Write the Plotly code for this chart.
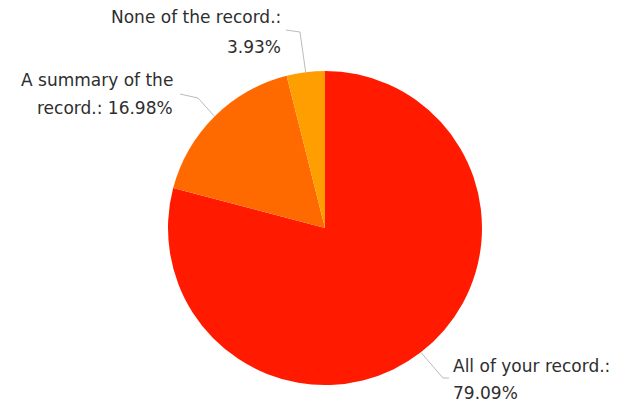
import numpy as np
import plotly.graph_objects as go

labels = ["All of your record.:", "A summary of the record.:", "None of the record.:"]
values = [79.09, 16.98, 3.93]
colors = ["#FF1A00", "#FF6A00", "#FF9E00"]

W, H = 630, 404
cx, cy, r = 325, 228, 157  # pie centre / radius in px (from top-left)

fig = go.Figure(go.Pie(
    labels=labels, values=values, sort=False, direction="clockwise", rotation=0,
    marker=dict(colors=colors, line=dict(color="rgba(0,0,0,0)", width=0)),
    textinfo="none", hoverinfo="label+percent", showlegend=False,
    domain=dict(x=[(cx - r) / W, (cx + r) / W], y=[(H - cy - r) / H, (H - cy + r) / H]),
))

# slice mid-angles (clockwise from 12 o'clock)
tot = sum(values)
cum = np.cumsum([0] + values[:-1])
mid = [(c + v / 2) / tot * 2 * np.pi for c, v in zip(cum, values)]
edge = [(cx + r * np.sin(a), cy - r * np.cos(a)) for a in mid]

def px(x, y):
    return x / W, 1 - y / H

font = dict(family="DejaVu Sans", size=17, color="#2e2e2e")
shapes = []
annos = []

# label text lines and their anchors (px): (text, x, y, xanchor)
label_lines = [
    [("All of your record.:", 451, 366, "left"), (f"{values[0]:.2f}%", 451, 393, "left")],
    [("A summary of the", 175, 80, "right"), (f"record.: {values[1]:.2f}%", 175, 108, "right")],
    [("None of the record.:", 283, 17, "right"), (f"{values[2]:.2f}%", 283, 47, "right")],
]
# leader line elbows (px)
elbows = [
    [(443, 378), (449, 378)],
    [(198, 98), (180, 94)],
    [(300, 32), (286, 30)],
]

for i in range(3):
    pts = [edge[i]] + elbows[i]
    path = ""
    for k, (x, y) in enumerate(pts):
        X, Y = px(x, y)
        path += ("M" if k == 0 else "L") + f"{X},{Y} "
    shapes.append(dict(type="path", xref="paper", yref="paper", path=path,
                       line=dict(color="#bbbbbb", width=1)))
    for (t, x, y, xa) in label_lines[i]:
        X, Y = px(x, y)
        annos.append(dict(text=t, x=X, y=Y, xref="paper", yref="paper", showarrow=False,
                          xanchor=xa, yanchor="middle", font=font))

fig.update_layout(width=W, height=H, margin=dict(l=0, r=0, t=0, b=0),
                  paper_bgcolor="white", plot_bgcolor="white",
                  shapes=shapes, annotations=annos)
fig.write_html("out.html", config={"displayModeBar": False},
               post_script="document.body.style.margin='0';")
